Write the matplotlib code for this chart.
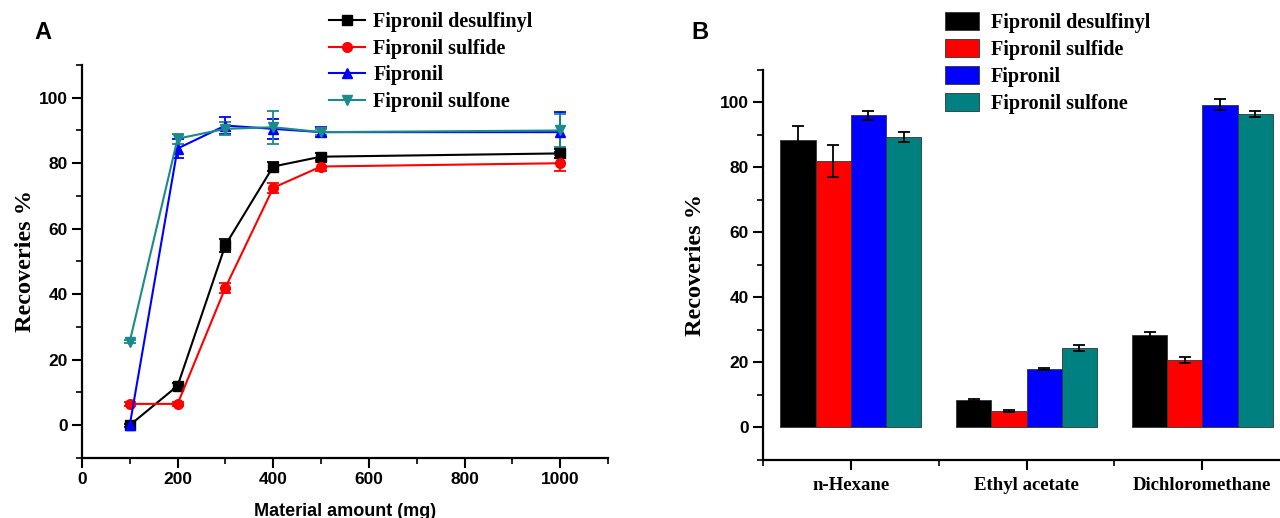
import matplotlib
matplotlib.use("Agg")
import matplotlib.pyplot as plt
import numpy as np
from matplotlib.ticker import MultipleLocator
from matplotlib.patches import Patch
from matplotlib.lines import Line2D

# ---------------- Data ----------------
series_names = ["Fipronil desulfinyl", "Fipronil sulfide", "Fipronil", "Fipronil sulfone"]
series_colors = ["#000000", "#ff0000", "#0000ff", "#008080"]
line_colors = ["#000000", "#ff0000", "#0000ff", "#1a8a8a"]
markers = ["s", "o", "^", "v"]

amount_mg = [100, 200, 300, 400, 500, 1000]
rec_desulfinyl = [0, 12, 55, 79, 82, 83]
err_desulfinyl = [0.5, 1, 2, 1.5, 1, 1.5]
rec_sulfide = [6.5, 6.5, 42, 72.5, 79, 80]
err_sulfide = [0.5, 0.5, 1.5, 1.5, 1.5, 2.5]
rec_fipronil = [0, 84.5, 91.5, 90.5, 89.5, 89.5]
err_fipronil = [0.5, 3, 2.5, 3, 1.5, 6]
rec_sulfone = [25.5, 87.5, 90.5, 91, 89.5, 90]
err_sulfone = [0.5, 1.5, 2, 5, 1, 5]

solvents = ["n-Hexane", "Ethyl acetate", "Dichloromethane"]
bar_desulfinyl = [88.5, 8.5, 28.5]
bar_err_desulfinyl = [4.2, 0.4, 1.0]
bar_sulfide = [82.0, 5.2, 20.7]
bar_err_sulfide = [4.8, 0.3, 1.0]
bar_fipronil = [96.0, 18.0, 99.3]
bar_err_fipronil = [1.5, 0.3, 1.7]
bar_sulfone = [89.3, 24.5, 96.5]
bar_err_sulfone = [1.5, 1.0, 1.0]

# ---------------- Figure ----------------
fig = plt.figure(figsize=(12.8, 5.18), dpi=100)
serif = "Liberation Serif"
sans = "Liberation Sans"

def style_axis(ax):
    for s in ["top", "right"]:
        ax.spines[s].set_visible(False)
    for s in ["left", "bottom"]:
        ax.spines[s].set_linewidth(1.6)
    ax.tick_params(which="major", direction="out", length=7, width=1.5, pad=3)
    ax.tick_params(which="minor", direction="out", length=4, width=1.2)
    for lbl in ax.get_xticklabels() + ax.get_yticklabels():
        lbl.set_fontweight("bold")
        lbl.set_fontfamily(sans)
        lbl.set_fontsize(12.5)

# Panel A
axA = fig.add_axes([0.064, 0.116, 0.411, 0.7585])
lines_vals = [rec_desulfinyl, rec_sulfide, rec_fipronil, rec_sulfone]
lines_errs = [err_desulfinyl, err_sulfide, err_fipronil, err_sulfone]
for name, vals, errs, c, m in zip(series_names, lines_vals, lines_errs, line_colors, markers):
    axA.errorbar(amount_mg, vals, yerr=errs, color=c, marker=m, markersize=7,
                 linewidth=1.5, capsize=4, elinewidth=1.3, capthick=1.3, label=name)
axA.set_xlim(0, 1100)
axA.set_ylim(-10, 110)
axA.set_xticks([0, 200, 400, 600, 800, 1000])
axA.xaxis.set_minor_locator(MultipleLocator(100))
axA.set_yticks([0, 20, 40, 60, 80, 100])
axA.yaxis.set_minor_locator(MultipleLocator(10))
style_axis(axA)
axA.set_xlabel("Material amount (mg)", fontfamily=sans, fontweight="bold", fontsize=13, labelpad=12)
axA.set_ylabel("Recoveries %", fontfamily=serif, fontweight="bold", fontsize=17.5, labelpad=2)

handlesA = [Line2D([0], [0], color=c, marker=m, markersize=7, linewidth=1.5)
            for c, m in zip(line_colors, markers)]
fig.legend(handlesA, series_names, loc="upper left", bbox_to_anchor=(0.243, 1.012),
           frameon=False, prop={"family": serif, "weight": "bold", "size": 14.5},
           handlelength=1.8, handletextpad=0.4, labelspacing=0.33)
fig.text(0.027, 0.925, "A", fontfamily=sans, fontweight="bold", fontsize=17)

# Panel B
axB = fig.add_axes([0.596, 0.112, 0.412, 0.753])
bar_vals = [bar_desulfinyl, bar_sulfide, bar_fipronil, bar_sulfone]
bar_errs = [bar_err_desulfinyl, bar_err_sulfide, bar_err_fipronil, bar_err_sulfone]
x = np.arange(len(solvents))
w = 0.2
for i, (vals, errs, c) in enumerate(zip(bar_vals, bar_errs, series_colors)):
    axB.bar(x + (i - 1.5) * w, vals, width=w, color=c, edgecolor="#333333", linewidth=0.6,
            yerr=errs, error_kw=dict(ecolor="black", capsize=4, elinewidth=1.3, capthick=1.3))
axB.set_xlim(-0.5, 2.5)
axB.set_ylim(-10, 110)
axB.set_xticks(x)
axB.set_xticklabels(solvents)
axB.xaxis.set_minor_locator(MultipleLocator(0.5))
axB.set_yticks([0, 20, 40, 60, 80, 100])
axB.yaxis.set_minor_locator(MultipleLocator(10))
style_axis(axB)
for lbl in axB.get_xticklabels():
    lbl.set_fontfamily(serif)
    lbl.set_fontsize(13.5)
axB.tick_params(axis="x", pad=5)
axB.set_ylabel("Recoveries %", fontfamily=serif, fontweight="bold", fontsize=17.5, labelpad=10)

handlesB = [Patch(facecolor=c, edgecolor="#333333", linewidth=0.6) for c in series_colors]
fig.legend(handlesB, series_names, loc="upper left", bbox_to_anchor=(0.724, 1.012),
           frameon=False, prop={"family": serif, "weight": "bold", "size": 14.5},
           handlelength=1.7, handleheight=1.0, handletextpad=0.6, labelspacing=0.3)
fig.text(0.540, 0.925, "B", fontfamily=sans, fontweight="bold", fontsize=17)

fig.savefig("out.png", dpi=100)
